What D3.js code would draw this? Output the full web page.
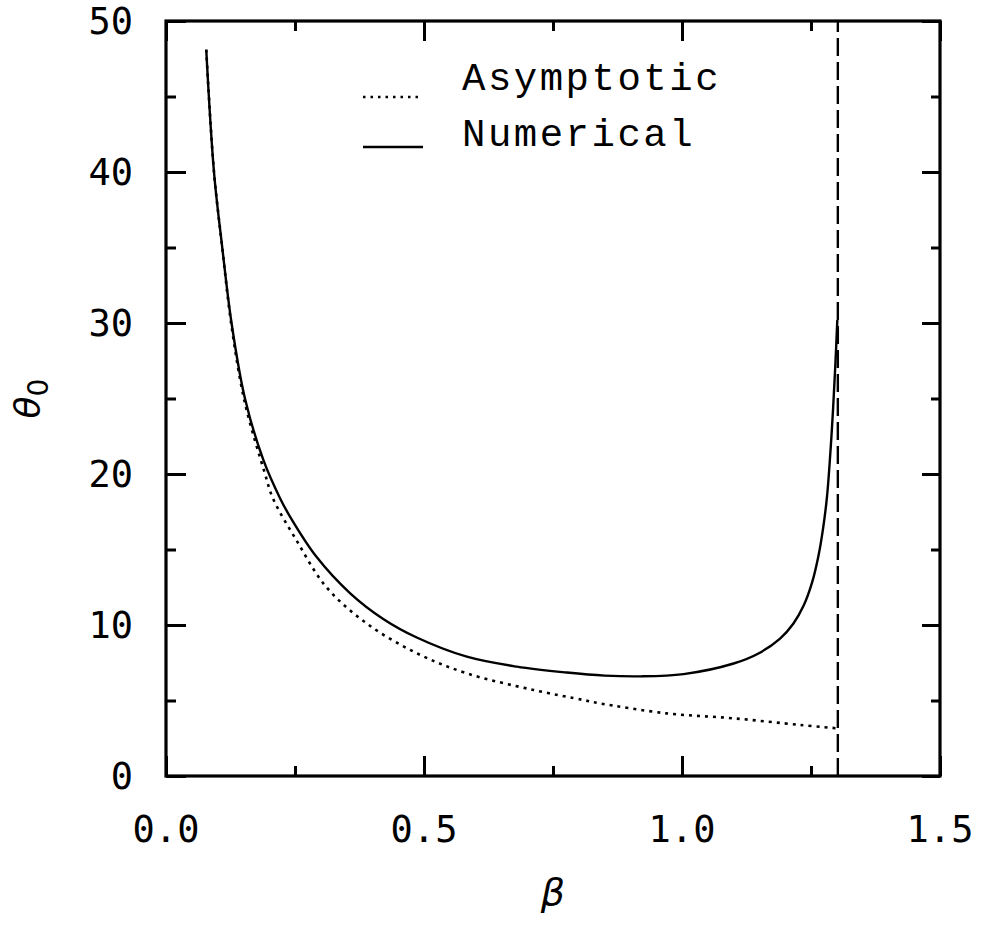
<!DOCTYPE html>
<html>
<head>
<meta charset="utf-8">
<script src="https://cdn.jsdelivr.net/npm/d3@7"></script>
<style>
  html, body { margin: 0; padding: 0; background: #fff; }
  svg { display: block; }
</style>
</head>
<body>
<div id="chart"></div>
<script>
// ---- data ----
const numBeta  = [0.078, 0.093, 0.109, 0.127, 0.153, 0.189, 0.221, 0.240, 0.292, 0.357, 0.421, 0.486, 0.583, 0.680, 0.777, 0.850, 0.920, 1.003, 1.100, 1.150, 1.190, 1.216, 1.236, 1.252, 1.264, 1.273, 1.281, 1.290, 1.297, 1.301]
const numTheta = [48.1, 40, 35, 30, 25, 20.9, 18.4, 17.2, 14.5, 12.1, 10.4, 9.17, 7.9, 7.24, 6.85, 6.65, 6.6, 6.75, 7.45, 8.15, 9.1, 10.1, 11.3, 12.8, 14.5, 16.3, 18.5, 22.7, 27.1, 30.2]

const asyBeta  = [0.078, 0.093, 0.109, 0.127, 0.153, 0.192, 0.207, 0.253, 0.311, 0.389, 0.486, 0.583, 0.712, 0.809, 0.841, 0.970, 1.100, 1.229, 1.300]
const asyTheta = [48.1, 40, 35, 29.8, 24.7, 20, 18.4, 15.6, 12.5, 10.1, 8.13, 6.8, 5.7, 5.03, 4.81, 4.15, 3.82, 3.38, 3.16]

const limitBeta = 1.302

const xMajor = [0, 0.5, 1.0, 1.5]
const xMinor = [0.25, 0.75, 1.25]
const yMajor = [0, 10, 20, 30, 40, 50]
const yMinor = [5, 15, 25, 35, 45]

const legendItems = ['Asymptotic', 'Numerical']

// ---- layout ----
const W = 985, H = 933
const margin = { top: 21, right: 45, bottom: 157, left: 166 }
const tickFont = '"DejaVu Sans Mono", monospace'
const legendFont = '"Liberation Mono", "Courier New", monospace'

const x = d3.scaleLinear().domain([0, 1.5]).range([margin.left, W - margin.right])
const y = d3.scaleLinear().domain([0, 50]).range([H - margin.bottom, margin.top])

const svg = d3.select('#chart').append('svg')
  .attr('width', W).attr('height', H)
  .attr('viewBox', `0 0 ${W} ${H}`)

// ---- ticks (inward, all four sides) ----
function styleAxis(g) {
  g.select('.domain').remove()
  g.selectAll('.tick line').attr('stroke', '#000').attr('stroke-width', 3)
  g.selectAll('.tick text').remove()
}

const x0 = x(0), x1 = x(1.5), y0 = y(0), y1 = y(50)

svg.append('g').attr('transform', `translate(0,${y0})`)
  .call(d3.axisTop(x).tickValues(xMajor).tickSize(20)).call(styleAxis)
svg.append('g').attr('transform', `translate(0,${y0})`)
  .call(d3.axisTop(x).tickValues(xMinor).tickSize(10)).call(styleAxis)
svg.append('g').attr('transform', `translate(0,${y1})`)
  .call(d3.axisBottom(x).tickValues(xMajor).tickSize(20)).call(styleAxis)
svg.append('g').attr('transform', `translate(0,${y1})`)
  .call(d3.axisBottom(x).tickValues(xMinor).tickSize(10)).call(styleAxis)

svg.append('g').attr('transform', `translate(${x0},0)`)
  .call(d3.axisRight(y).tickValues(yMajor).tickSize(20)).call(styleAxis)
svg.append('g').attr('transform', `translate(${x0},0)`)
  .call(d3.axisRight(y).tickValues(yMinor).tickSize(10)).call(styleAxis)
svg.append('g').attr('transform', `translate(${x1},0)`)
  .call(d3.axisLeft(y).tickValues(yMajor).tickSize(18)).call(styleAxis)
svg.append('g').attr('transform', `translate(${x1},0)`)
  .call(d3.axisLeft(y).tickValues(yMinor).tickSize(9)).call(styleAxis)

// frame
svg.append('rect')
  .attr('x', x0).attr('y', y1)
  .attr('width', x1 - x0).attr('height', y0 - y1)
  .attr('fill', 'none').attr('stroke', '#000').attr('stroke-width', 3.2)

// tick labels
svg.append('g').selectAll('text')
  .data(xMajor).join('text')
  .attr('x', d => x(d)).attr('y', y0 + 66)
  .attr('text-anchor', 'middle')
  .attr('font-family', tickFont).attr('font-size', 37)
  .text(d => d.toFixed(1))

svg.append('g').selectAll('text')
  .data(yMajor).join('text')
  .attr('x', x0 - 33).attr('y', d => y(d))
  .attr('dy', '0.36em')
  .attr('text-anchor', 'end')
  .attr('font-family', tickFont).attr('font-size', 37)
  .text(d => d)

// axis titles
svg.append('text')
  .attr('x', 553).attr('y', 905)
  .attr('text-anchor', 'middle')
  .attr('font-family', '"DejaVu Sans", sans-serif').attr('font-style', 'italic')
  .attr('font-size', 38)
  .text('β')

const yTitle = svg.append('text')
  .attr('transform', `translate(40,${(y0 + y1) / 2}) rotate(-90)`)
  .attr('text-anchor', 'middle')
  .attr('font-family', '"DejaVu Sans", sans-serif').attr('font-style', 'italic')
  .attr('font-size', 36)
yTitle.append('tspan').text('θ')
yTitle.append('tspan').attr('dy', 8).attr('font-size', 28).attr('font-style', 'normal').text('0')

// ---- curves ----
const line = d3.line()
  .x(d => x(d[0])).y(d => y(d[1]))
  .curve(d3.curveCatmullRom.alpha(0.5))

svg.append('path')
  .datum(asyBeta.map((b, i) => [b, asyTheta[i]]))
  .attr('d', line)
  .attr('fill', 'none').attr('stroke', '#000')
  .attr('stroke-width', 2.6).attr('stroke-dasharray', '3,5')

svg.append('path')
  .datum(numBeta.map((b, i) => [b, numTheta[i]]))
  .attr('d', line)
  .attr('fill', 'none').attr('stroke', '#000')
  .attr('stroke-width', 2.4)

// limit line
svg.append('line')
  .attr('x1', x(limitBeta)).attr('x2', x(limitBeta))
  .attr('y1', y0).attr('y2', y1)
  .attr('stroke', '#000').attr('stroke-width', 2.4)
  .attr('stroke-dasharray', '18,6')

// ---- legend ----
const legend = svg.append('g')
const legRows = [
  { label: legendItems[0], dash: '2.5,5', lineY: 97, textY: 90 },
  { label: legendItems[1], dash: null, lineY: 147, textY: 146 }
]
legRows.forEach(r => {
  legend.append('line')
    .attr('x1', 363).attr('x2', 423)
    .attr('y1', r.lineY).attr('y2', r.lineY)
    .attr('stroke', '#000').attr('stroke-width', 2.4)
    .attr('stroke-dasharray', r.dash)
  legend.append('text')
    .attr('x', 462).attr('y', r.textY)
    .attr('font-family', legendFont).attr('font-size', 39)
    .attr('letter-spacing', 2.5)
    .text(r.label)
})
</script>
</body>
</html>
